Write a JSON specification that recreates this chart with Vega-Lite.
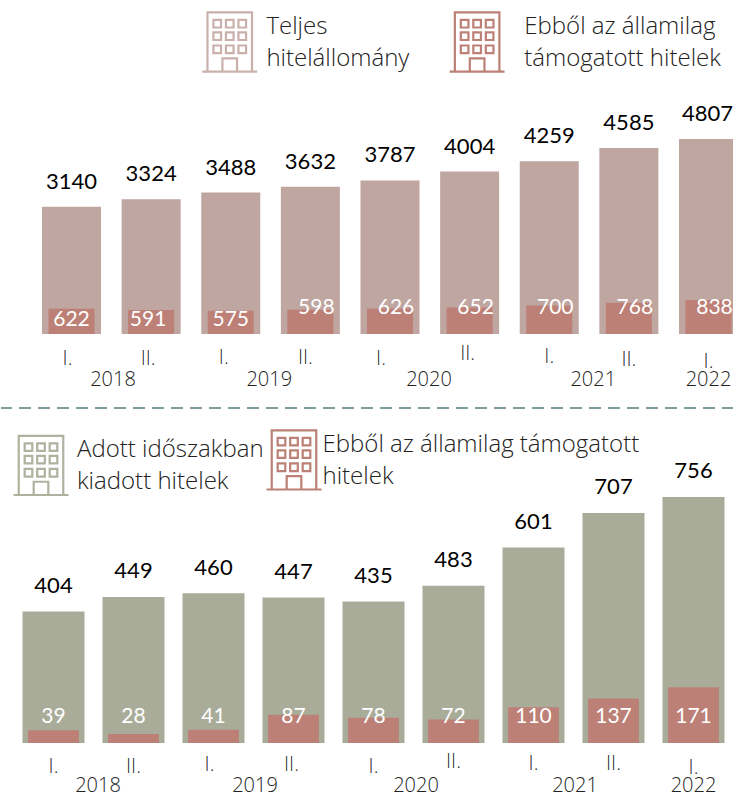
{
"$schema":"https://vega.github.io/schema/vega-lite/v6.json",
"padding":0,"spacing":0,"bounds":"flush",
"config":{"view":{"stroke":null},"text":{"font":"Open Sans"}},
"datasets":{
"top":[
{"period":"2018 I.","total":3140,"sub":622},{"period":"2018 II.","total":3324,"sub":591},
{"period":"2019 I.","total":3488,"sub":575},{"period":"2019 II.","total":3632,"sub":598},
{"period":"2020 I.","total":3787,"sub":626},{"period":"2020 II.","total":4004,"sub":652},
{"period":"2021 I.","total":4259,"sub":700},{"period":"2021 II.","total":4585,"sub":768},
{"period":"2022 I.","total":4807,"sub":838}],
"bottom":[
{"period":"2018 I.","total":404,"sub":39},{"period":"2018 II.","total":449,"sub":28},
{"period":"2019 I.","total":460,"sub":41},{"period":"2019 II.","total":447,"sub":87},
{"period":"2020 I.","total":435,"sub":78},{"period":"2020 II.","total":483,"sub":72},
{"period":"2021 I.","total":601,"sub":110},{"period":"2021 II.","total":707,"sub":137},
{"period":"2022 I.","total":756,"sub":171}],
"years":[{"year":"2018","at":"2018 I."},{"year":"2019","at":"2019 I."},{"year":"2020","at":"2020 I."},{"year":"2021","at":"2021 I."},{"year":"2022","at":"2022 I."}]
},
"vconcat":[
{"width":733,"height":408,
"data":{"name":"top"},
"encoding":{"x":{"field":"period","type":"nominal","sort":null,
 "scale":{"range":[41,737],"paddingInner":0.259,"paddingOuter":0},
 "axis":{"title":null,"orient":"bottom","offset":-74,"domain":false,"ticks":false,"labelAngle":0,"labelFont":"Open Sans","labelFontWeight":300,"labelFontSize":20,"labelColor":"#222222","labelOpacity":0.99,"labelBaseline":"middle","labelPadding":{"condition":[{"test":"datum.value=='2020 II.'","value":19},{"test":"datum.value=='2021 I.'","value":22},{"test":"datum.value=='2021 II.'","value":25},{"test":"datum.value=='2022 I.'","value":27},{"test":"datum.value=='2019 I.'||datum.value=='2019 II.'","value":23}],"value":24},"labelExpr":"split(datum.label,' ')[1]","labelOffset":{"condition":[{"test":"datum.value=='2018 I.'","value":-4},{"test":"datum.value=='2018 II.'","value":-3},{"test":"datum.value=='2019 I.'","value":-7},{"test":"datum.value=='2019 II.'","value":-5},{"test":"datum.value=='2020 I.'","value":-9},{"test":"datum.value=='2020 II.'","value":-2}],"value":0}}}},
"layer":[
{"mark":{"type":"bar","color":"#BFA6A1","clip":true},"encoding":{"y":{"field":"total","type":"quantitative","stack":null,"scale":{"domain":[-1825,8235],"nice":false,"zero":false},"axis":null}}},
{"mark":{"type":"bar","color":"#BC8076","width":{"band":0.78},"clip":true},"encoding":{"y":{"field":"sub","type":"quantitative","stack":null}}},
{"mark":{"type":"text","font":"Lato","fontSize":22,"color":"#000000","dy":-25,"baseline":"middle","dx":{"expr":"datum.total==4807?-1:0"}},"encoding":{"y":{"field":"total","type":"quantitative"},"text":{"field":"total","type":"nominal"}}},
{"mark":{"type":"text","font":"Lato","fontSize":21,"color":"#FFFFFF","baseline":"middle","dy":{"expr":"datum.sub<=591||datum.sub==622?-14:-26"},"dx":{"expr":"datum.sub==591?-3:(datum.sub>=598&&datum.sub!=622?6:0)"}},"encoding":{"y":{"datum":0},"text":{"field":"sub","type":"nominal"}}},
{"data":{"name":"years"},"mark":{"type":"text","fontWeight":300,"fontSize":20,"color":"#222222","baseline":"middle","dy":46,"dx":{"expr":"datum.year=='2018'?41.5:datum.year=='2019'?38.5:datum.year=='2020'?39:datum.year=='2021'?44:0"}},"encoding":{"x":{"field":"at","type":"nominal","sort":null},"y":{"datum":0},"text":{"field":"year"}}},
{"data":{"values":[{"label":"Teljes\nhitelállomány"}]},"mark":{"type":"point","filled":false,"strokeWidth":2.2,"color":"#C9B0AB","size":3721,"opacity":1,"shape":"M-.9 .97H.9M-.73 .97V-.97H.73V.97M-.24 .97V.535H.24V.97M-.535 -.725H-.285V-.475H-.535ZM-.125 -.725H.125V-.475H-.125ZM.285 -.725H.535V-.475H.285ZM-.535 -.315H-.285V-.065H-.535ZM-.125 -.315H.125V-.065H-.125ZM.285 -.315H.535V-.065H.285ZM-.535 .115H-.285V.365H-.535ZM-.125 .115H.125V.365H-.125ZM.285 .115H.535V.365H.285Z","xOffset":-1},"encoding":{"x":{"datum":"2019 I."},"y":{"datum":7200}}},
{"data":{"values":[{"label":"Ebből az államilag\ntámogatott hitelek"}]},"mark":{"type":"point","filled":false,"strokeWidth":2.2,"color":"#BC8076","size":3721,"opacity":1,"shape":"M-.9 .97H.9M-.73 .97V-.97H.73V.97M-.24 .97V.535H.24V.97M-.535 -.725H-.285V-.475H-.535ZM-.125 -.725H.125V-.475H-.125ZM.285 -.725H.535V-.475H.285ZM-.535 -.315H-.285V-.065H-.535ZM-.125 -.315H.125V-.065H-.125ZM.285 -.315H.535V-.065H.285ZM-.535 .115H-.285V.365H-.535ZM-.125 .115H.125V.365H-.125ZM.285 .115H.535V.365H.285Z","xOffset":7.5},"encoding":{"x":{"datum":"2020 II."},"y":{"datum":7200}}},
{"data":{"values":[{"label":"Teljes\nhitelállomány","at":"2019 II.","s":"a"},{"label":"Ebből az államilag\ntámogatott hitelek","at":"2021 I.","s":"b"}]},"mark":{"type":"text","fontWeight":300,"fontSize":24,"color":"#222222","align":"left","baseline":"middle","lineBreak":"\n","lineHeight":32,"dx":{"expr":"datum.s=='a'?-44:-25"}},"encoding":{"x":{"field":"at","type":"nominal","sort":null},"y":{"datum":7569},"text":{"field":"label"}}},
{"data":{"values":[{}]},"mark":{"type":"rule","color":"#7F9C9C","strokeWidth":2,"strokeDash":[12,7]},"encoding":{"x":null,"y":{"datum":-1825}}}
]},
{"width":733,"height":386,
"data":{"name":"bottom"},
"encoding":{"x":{"field":"period","type":"nominal","sort":null,
 "scale":{"range":[21.5,723.5],"paddingInner":0.225,"paddingOuter":0},
 "axis":{"title":null,"orient":"bottom","offset":-51,"domain":false,"ticks":false,"labelAngle":0,"labelFont":"Open Sans","labelFontWeight":300,"labelFontSize":20,"labelColor":"#222222","labelOpacity":0.99,"labelBaseline":"middle","labelPadding":{"condition":[{"test":"datum.value=='2019 I.'||datum.value=='2019 II.'","value":21},{"test":"datum.value=='2020 II.'","value":18},{"test":"datum.value=='2021 I.'||datum.value=='2021 II.'","value":20},{"test":"datum.value=='2022 I.'","value":24}],"value":23},"labelExpr":"split(datum.label,' ')[1]","labelOffset":{"condition":[{"test":"datum.value=='2019 I.'","value":-4},{"test":"datum.value=='2019 II.'","value":-2}],"value":0}}}},
"layer":[
{"mark":{"type":"bar","color":"#A9AC99","clip":true},"encoding":{"y":{"field":"total","type":"quantitative","stack":null,"scale":{"domain":[-156.7,1029.5],"nice":false,"zero":false},"axis":null}}},
{"mark":{"type":"bar","color":"#BC8076","width":{"band":0.82},"clip":true},"encoding":{"y":{"field":"sub","type":"quantitative","stack":null}}},
{"mark":{"type":"text","font":"Lato","fontSize":22,"color":"#000000","dy":-25.5,"baseline":"middle"},"encoding":{"y":{"field":"total","type":"quantitative"},"text":{"field":"total","type":"nominal"}}},
{"mark":{"type":"text","font":"Lato","fontSize":21,"color":"#FFFFFF","baseline":"middle","dy":-26},"encoding":{"y":{"datum":0},"text":{"field":"sub","type":"nominal"}}},
{"data":{"name":"years"},"mark":{"type":"text","fontWeight":300,"fontSize":20,"color":"#222222","baseline":"middle","dy":43,"dx":{"expr":"datum.year=='2018'?44.5:datum.year=='2019'?41.5:datum.year=='2020'?42.5:datum.year=='2021'?41.5:0"}},"encoding":{"x":{"field":"at","type":"nominal","sort":null},"y":{"datum":0},"text":{"field":"year"}}},
{"data":{"values":[{"label":"Adott időszakban\nkiadott hitelek"}]},"mark":{"type":"point","filled":false,"strokeWidth":2.2,"color":"#B0B29F","size":3721,"opacity":1,"shape":"M-.9 .97H.9M-.73 .97V-.97H.73V.97M-.24 .97V.535H.24V.97M-.535 -.725H-.285V-.475H-.535ZM-.125 -.725H.125V-.475H-.125ZM.285 -.725H.535V-.475H.285ZM-.535 -.315H-.285V-.065H-.535ZM-.125 -.315H.125V-.065H-.125ZM.285 -.315H.535V-.065H.285ZM-.535 .115H-.285V.365H-.535ZM-.125 .115H.125V.365H-.125ZM.285 .115H.535V.365H.285Z","xOffset":-12.5},"encoding":{"x":{"datum":"2018 I."},"y":{"datum":853}}},
{"data":{"values":[{"label":"Ebből az államilag támogatott\nhitelek"}]},"mark":{"type":"point","filled":false,"strokeWidth":2.2,"color":"#BC8076","size":3721,"opacity":1,"shape":"M-.9 .97H.9M-.73 .97V-.97H.73V.97M-.24 .97V.535H.24V.97M-.535 -.725H-.285V-.475H-.535ZM-.125 -.725H.125V-.475H-.125ZM.285 -.725H.535V-.475H.285ZM-.535 -.315H-.285V-.065H-.535ZM-.125 -.315H.125V-.065H-.125ZM.285 -.315H.535V-.065H.285ZM-.535 .115H-.285V.365H-.535ZM-.125 .115H.125V.365H-.125ZM.285 .115H.535V.365H.285Z","xOffset":0.5},"encoding":{"x":{"datum":"2019 II."},"y":{"datum":870}}},
{"data":{"values":[{"label":"Adott időszakban\nkiadott hitelek","at":"2018 I.","s":"a"}]},"mark":{"type":"text","fontWeight":300,"fontSize":24,"color":"#222222","align":"left","baseline":"middle","lineBreak":"\n","lineHeight":32,"dx":23.5},"encoding":{"x":{"field":"at","type":"nominal","sort":null},"y":{"datum":900},"text":{"field":"label"}}},
{"data":{"values":[{"label":"Ebből az államilag támogatott\nhitelek","at":"2019 II."}]},"mark":{"type":"text","fontWeight":300,"fontSize":24,"color":"#222222","align":"left","baseline":"middle","lineBreak":"\n","lineHeight":32,"dx":29},"encoding":{"x":{"field":"at","type":"nominal","sort":null},"y":{"datum":916},"text":{"field":"label"}}}
]}
]
}
